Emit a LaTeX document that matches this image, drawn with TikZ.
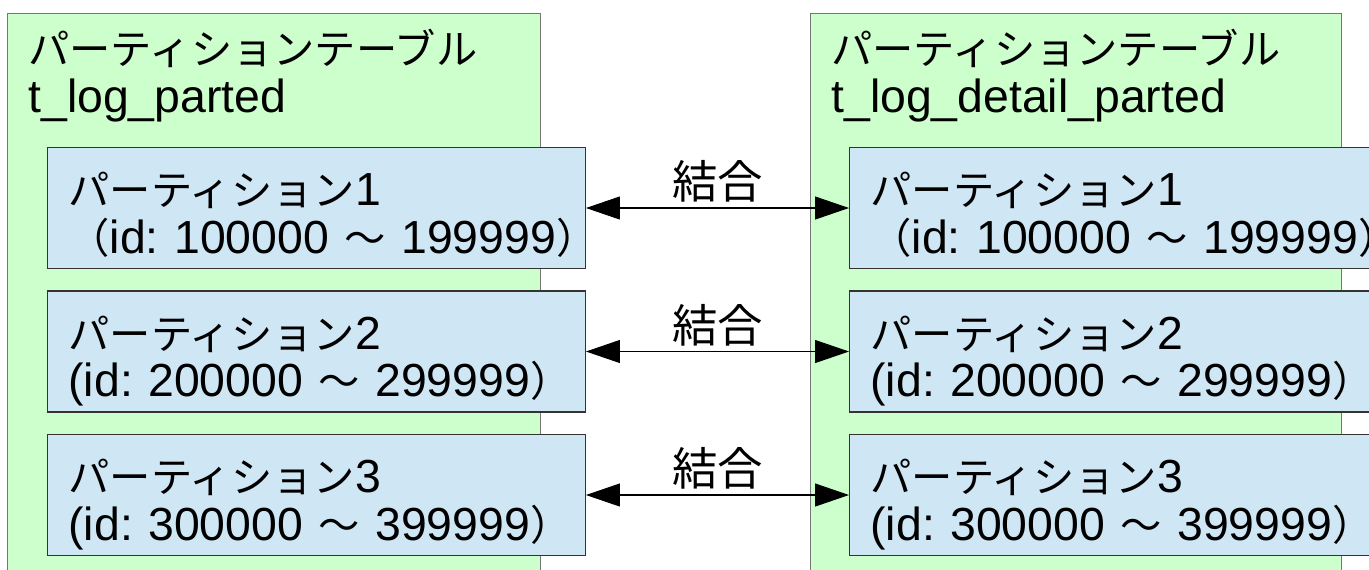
\documentclass[tikz,border=0pt]{standalone}
\usepackage{fontspec}
\setmainfont{Liberation Sans}
\newfontfamily\jp[Scale=0.89]{Noto Sans CJK JP}
\usetikzlibrary{arrows.meta,positioning}
\definecolor{tablegreen}{HTML}{CCFFCC}
\definecolor{tableedge}{HTML}{767676}
\definecolor{partblue}{HTML}{CFE6F4}
\definecolor{partedge}{HTML}{333333}
\frenchspacing
\begin{document}
\begin{tikzpicture}[x=0.02cm, y=-0.02cm,
    every node/.style={font=\fontsize{26.4pt}{27.3pt}\selectfont},
    tablebox/.style={draw=tableedge, fill=tablegreen, line width=0.6pt, anchor=north west,
      minimum height=11.74cm, inner sep=0pt},
    tabletitle/.style={anchor=north west, align=left, inner sep=0pt},
    partbox/.style={draw=partedge, fill=partblue, line width=0.6pt, anchor=north west,
      minimum width=10.76cm, minimum height=2.42cm, text width=9.92cm, align=left,
      text height=1.16cm, text depth=1.26cm, inner xsep=0.42cm, inner ysep=0pt},
    joinlabel/.style={above, inner sep=0.1cm, font=\fontsize{29pt}{30pt}\selectfont\jp},
    joinarrow/.style={{Triangle[length=0.68cm,width=0.46cm]}-{Triangle[length=0.68cm,width=0.46cm]}, line width=0.6pt}]
  \useasboundingbox (0,0) rectangle (1369,570);

  % partitioned tables
  \node[tablebox, minimum width=10.66cm] (lt) at (7,13) {};
  \node[tablebox, minimum width=10.62cm] (rt) at (810,13) {};
  \node[tabletitle] (ltitle) at (28,29) {{\jp パーティションテーブル}\\t\_log\_parted};
  \node[tabletitle] (rtitle) at (831,29) {{\jp パーティションテーブル}\\t\_log\_detail\_parted};

  % partitions of t_log_parted
  \node[partbox] (l1) at (47,147) {{\jp パーティション}1\\\mbox{{\jp （}id: 100000 {\jp ～} 199999{\jp ）}}};
  \node[partbox] (l2) at (47,290.5) {{\jp パーティション}2\\\mbox{(id: 200000 {\jp ～} 299999{\jp ）}}};
  \node[partbox] (l3) at (47,434) {{\jp パーティション}3\\\mbox{(id: 300000 {\jp ～} 399999{\jp ）}}};

  % partitions of t_log_detail_parted
  \node[partbox] (r1) at (849,147) {{\jp パーティション}1\\\mbox{{\jp （}id: 100000 {\jp ～} 199999{\jp ）}}};
  \node[partbox] (r2) at (849,290.5) {{\jp パーティション}2\\\mbox{(id: 200000 {\jp ～} 299999{\jp ）}}};
  \node[partbox] (r3) at (849,434) {{\jp パーティション}3\\\mbox{(id: 300000 {\jp ～} 399999{\jp ）}}};

  % joins
  \draw[joinarrow] (l1.east) -- node[joinlabel] (j1) {結合} (r1.west);
  \draw[joinarrow] (l2.east) -- node[joinlabel] (j2) {結合} (r2.west);
  \draw[joinarrow] (l3.east) -- node[joinlabel] (j3) {結合} (r3.west);
\end{tikzpicture}
\end{document}
